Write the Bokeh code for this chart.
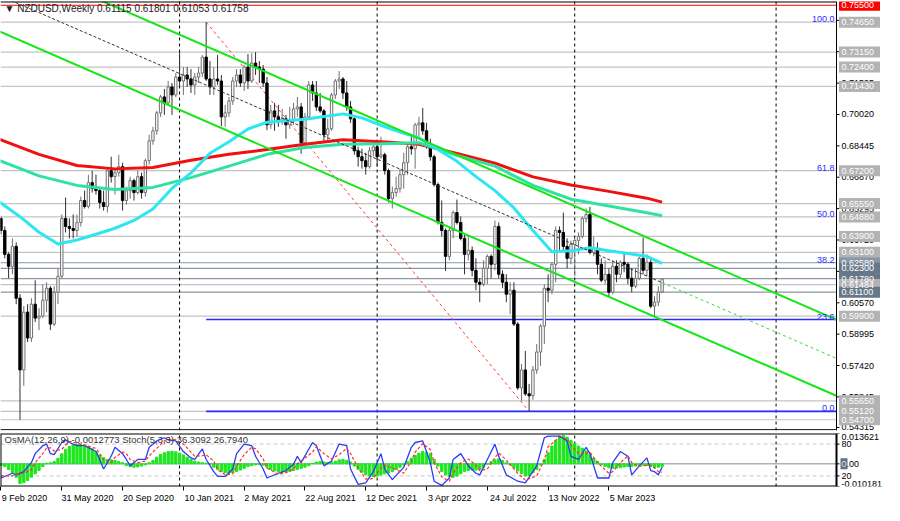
from bokeh.plotting import figure
from bokeh.models import Range1d, FixedTicker, Label
from bokeh.core.properties import value
from bokeh.layouts import column
from bokeh.embed import file_html
from bokeh.resources import INLINE

# ---------------- data ----------------
FIRST_WEEK = -1  # index of the first weekly bar (week 0 = 9 Feb 2020)
opens = [0.6440, 0.6480, 0.6420, 0.6300, 0.6240, 0.6340, 0.6080, 0.5720, 0.6010, 0.5880, 0.6050, 0.5980, 0.5990, 0.6070, 0.6130, 0.5950,
         0.6110, 0.6190, 0.6480, 0.6440, 0.6430, 0.6420, 0.6460, 0.6570, 0.6540, 0.6660, 0.6630, 0.6620, 0.6560, 0.6540, 0.6720, 0.6690,
         0.6710, 0.6740, 0.6570, 0.6620, 0.6670, 0.6610, 0.6690, 0.6610, 0.6770, 0.6870, 0.6920, 0.7010, 0.7090, 0.7060, 0.7140, 0.7100,
         0.7190, 0.7170, 0.7200, 0.7180, 0.7150, 0.7190, 0.7210, 0.7290, 0.7180, 0.7140, 0.7180, 0.7170, 0.6990, 0.7010, 0.7070, 0.7170,
         0.7200, 0.7160, 0.7240, 0.7170, 0.7260, 0.7240, 0.7230, 0.7160, 0.6950, 0.7020, 0.6990, 0.6970, 0.6980, 0.6950, 0.6970, 0.7030,
         0.7040, 0.6860, 0.6990, 0.7150, 0.7110, 0.7040, 0.7020, 0.6900, 0.6930, 0.7100, 0.7170, 0.7180, 0.7110, 0.7040, 0.6980, 0.6820,
         0.6790, 0.6770, 0.6740, 0.6820, 0.6840, 0.6790, 0.6800, 0.6720, 0.6580, 0.6610, 0.6630, 0.6700, 0.6760, 0.6840, 0.6830, 0.6950,
         0.6960, 0.6920, 0.6850, 0.6790, 0.6650, 0.6460, 0.6420, 0.6290, 0.6420, 0.6510, 0.6460, 0.6380, 0.6300, 0.6320, 0.6220, 0.6160,
         0.6150, 0.6230, 0.6290, 0.6250, 0.6440, 0.6200, 0.6160, 0.6100, 0.6120, 0.5950, 0.5630, 0.5720, 0.5600, 0.5590, 0.5720, 0.5810,
         0.5940, 0.6130, 0.6120, 0.6250, 0.6420, 0.6410, 0.6340, 0.6280, 0.6350, 0.6370, 0.6390, 0.6480, 0.6500, 0.6310, 0.6330, 0.6250,
         0.6170, 0.6200, 0.6110, 0.6240, 0.6200, 0.6260, 0.6250, 0.6180, 0.6140, 0.6180, 0.6280, 0.6220, 0.6260, 0.6040, 0.6060, 0.61115]
highs = [0.6510, 0.6490, 0.6440, 0.6310, 0.6380, 0.6360, 0.6100, 0.6040, 0.6050, 0.6080, 0.6170, 0.6030, 0.6150, 0.6160, 0.6140, 0.6140,
         0.6230, 0.6500, 0.6585, 0.6480, 0.6500, 0.6500, 0.6590, 0.6620, 0.6700, 0.6720, 0.6700, 0.6630, 0.6620, 0.6730, 0.6790, 0.6730,
         0.6800, 0.6760, 0.6640, 0.6690, 0.6680, 0.6720, 0.6710, 0.6780, 0.6900, 0.6940, 0.7020, 0.7100, 0.7130, 0.7170, 0.7160, 0.7210,
         0.7316, 0.7240, 0.7240, 0.7230, 0.7210, 0.7240, 0.7300, 0.7465, 0.7270, 0.7240, 0.7300, 0.7200, 0.7050, 0.7090, 0.7190, 0.7230,
         0.7230, 0.7250, 0.7305, 0.7310, 0.7315, 0.7270, 0.7250, 0.7190, 0.7050, 0.7060, 0.7050, 0.7030, 0.7000, 0.7040, 0.7060, 0.7090,
         0.7060, 0.7010, 0.7170, 0.7170, 0.7170, 0.7110, 0.7030, 0.6980, 0.7110, 0.7180, 0.7220, 0.7190, 0.7170, 0.7070, 0.6990, 0.6840,
         0.6830, 0.6810, 0.6840, 0.6860, 0.6860, 0.6890, 0.6810, 0.6730, 0.6640, 0.6690, 0.6730, 0.6810, 0.6850, 0.6890, 0.6960, 0.6990,
         0.7035, 0.6960, 0.6880, 0.6800, 0.6660, 0.6570, 0.6430, 0.6440, 0.6520, 0.6575, 0.6490, 0.6400, 0.6390, 0.6340, 0.6280, 0.6180,
         0.6270, 0.6300, 0.6300, 0.6470, 0.6460, 0.6220, 0.6200, 0.6160, 0.6160, 0.5960, 0.5750, 0.5815, 0.5650, 0.5740, 0.5850, 0.5950,
         0.6150, 0.6200, 0.6260, 0.6440, 0.6440, 0.6510, 0.6380, 0.6370, 0.6380, 0.6410, 0.6490, 0.6530, 0.6538, 0.6390, 0.6360, 0.6280,
         0.6270, 0.6230, 0.6270, 0.6270, 0.6270, 0.6310, 0.6260, 0.6230, 0.6230, 0.6290, 0.6385, 0.6300, 0.6280, 0.6090, 0.6140, 0.61801]
lows = [0.6420, 0.6400, 0.6280, 0.6180, 0.6200, 0.6050, 0.5470, 0.5640, 0.5860, 0.5860, 0.5960, 0.5920, 0.5980, 0.6010, 0.5920, 0.5940,
        0.6050, 0.6180, 0.6410, 0.6380, 0.6380, 0.6390, 0.6440, 0.6530, 0.6530, 0.6610, 0.6600, 0.6530, 0.6520, 0.6510, 0.6660, 0.6600,
        0.6690, 0.6520, 0.6550, 0.6580, 0.6570, 0.6600, 0.6580, 0.6590, 0.6750, 0.6850, 0.6900, 0.6990, 0.7000, 0.7050, 0.7000, 0.7090,
        0.7140, 0.7100, 0.7140, 0.7110, 0.7100, 0.7160, 0.7190, 0.7170, 0.7100, 0.7100, 0.7150, 0.6943, 0.6940, 0.6990, 0.7050, 0.7140,
        0.7140, 0.7120, 0.7130, 0.7160, 0.7200, 0.7160, 0.7140, 0.6923, 0.6930, 0.6920, 0.6940, 0.6950, 0.6880, 0.6930, 0.6950, 0.6990,
        0.6805, 0.6850, 0.6980, 0.7070, 0.7020, 0.7010, 0.6860, 0.6860, 0.6920, 0.7080, 0.7130, 0.7080, 0.7020, 0.6960, 0.6800, 0.6740,
        0.6730, 0.6700, 0.6730, 0.6790, 0.6740, 0.6780, 0.6700, 0.6560, 0.6530, 0.6590, 0.6610, 0.6630, 0.6700, 0.6800, 0.6730, 0.6880,
        0.6900, 0.6830, 0.6770, 0.6640, 0.6450, 0.6390, 0.6217, 0.6270, 0.6380, 0.6450, 0.6370, 0.6200, 0.6270, 0.6190, 0.6120, 0.6060,
        0.6140, 0.6150, 0.6180, 0.6220, 0.6180, 0.6130, 0.6060, 0.6000, 0.5940, 0.5620, 0.5565, 0.5590, 0.5512, 0.5570, 0.5700, 0.5740,
        0.5850, 0.6060, 0.6100, 0.6160, 0.6320, 0.6320, 0.6230, 0.6250, 0.6190, 0.6300, 0.6380, 0.6460, 0.6300, 0.6290, 0.6200, 0.6160,
        0.6150, 0.6085, 0.6100, 0.6160, 0.6180, 0.6210, 0.6150, 0.6110, 0.6130, 0.6170, 0.6200, 0.6190, 0.6030, 0.5985, 0.6040, 0.61053]
closes = [0.6480, 0.6420, 0.6300, 0.6240, 0.6340, 0.6080, 0.5720, 0.6010, 0.5880, 0.6050, 0.5980, 0.5990, 0.6070, 0.6130, 0.5950, 0.6110,
          0.6190, 0.6480, 0.6440, 0.6430, 0.6420, 0.6460, 0.6570, 0.6540, 0.6660, 0.6630, 0.6620, 0.6560, 0.6540, 0.6720, 0.6690, 0.6710,
          0.6740, 0.6570, 0.6620, 0.6670, 0.6610, 0.6690, 0.6610, 0.6770, 0.6870, 0.6920, 0.7010, 0.7090, 0.7060, 0.7140, 0.7100, 0.7190,
          0.7170, 0.7200, 0.7180, 0.7150, 0.7190, 0.7210, 0.7290, 0.7180, 0.7140, 0.7180, 0.7170, 0.6990, 0.7010, 0.7070, 0.7170, 0.7200,
          0.7160, 0.7240, 0.7170, 0.7260, 0.7240, 0.7230, 0.7160, 0.6950, 0.7020, 0.6990, 0.6970, 0.6980, 0.6950, 0.6970, 0.7030, 0.7040,
          0.6860, 0.6990, 0.7150, 0.7110, 0.7040, 0.7020, 0.6900, 0.6930, 0.7100, 0.7170, 0.7180, 0.7110, 0.7040, 0.6980, 0.6820, 0.6790,
          0.6770, 0.6740, 0.6820, 0.6840, 0.6790, 0.6800, 0.6720, 0.6580, 0.6610, 0.6630, 0.6700, 0.6760, 0.6840, 0.6830, 0.6950, 0.6960,
          0.6920, 0.6850, 0.6790, 0.6650, 0.6460, 0.6420, 0.6290, 0.6420, 0.6510, 0.6460, 0.6380, 0.6300, 0.6320, 0.6220, 0.6160, 0.6150,
          0.6230, 0.6290, 0.6250, 0.6440, 0.6200, 0.6160, 0.6100, 0.6120, 0.5950, 0.5630, 0.5720, 0.5600, 0.5590, 0.5720, 0.5810, 0.5940,
          0.6130, 0.6120, 0.6250, 0.6420, 0.6410, 0.6340, 0.6280, 0.6350, 0.6370, 0.6390, 0.6480, 0.6500, 0.6310, 0.6330, 0.6250, 0.6170,
          0.6200, 0.6110, 0.6240, 0.6200, 0.6260, 0.6250, 0.6180, 0.6140, 0.6180, 0.6280, 0.6220, 0.6260, 0.6040, 0.6060, 0.6110, 0.61758]

# moving averages (week index, price)
ma_red_w = [-1, 0, 10, 20, 30, 40, 50, 60, 70, 80, 90, 100, 110, 120, 130, 140, 150, 160, 170, 174]
ma_red = [0.6880, 0.6875, 0.6802, 0.6746, 0.6729, 0.6736, 0.6772, 0.6802, 0.6826, 0.6853, 0.6875, 0.6865, 0.6853,
          0.6807, 0.6758, 0.6689, 0.6648, 0.6616, 0.6582, 0.6562]
ma_aqua_w = [-1, 0, 10, 20, 30, 40, 50, 60, 70, 80, 90, 100, 110, 120, 130, 140, 150, 160, 170, 174]
ma_aqua = [0.6773, 0.6768, 0.6694, 0.6646, 0.6626, 0.6636, 0.6685, 0.6743, 0.6802, 0.6836, 0.6853, 0.6855, 0.6860,
           0.6797, 0.6743, 0.6646, 0.6577, 0.6543, 0.6509, 0.6494]
ma_cyan_w = [-1, 0, 5, 10, 15, 20, 25, 30, 35, 40, 45, 50, 55, 60, 65, 70, 80, 90, 95, 100, 105, 110, 115, 120, 125,
             130, 135, 140, 145, 150, 155, 160, 165, 170, 174]
ma_cyan = [0.6565, 0.6558, 0.6489, 0.6411, 0.6352, 0.6372, 0.6401, 0.6431, 0.6470, 0.6528, 0.6631, 0.6709, 0.6807,
           0.6865, 0.6929, 0.6963, 0.6978, 0.7005, 0.6985, 0.6948, 0.6914, 0.6885, 0.6826, 0.6767, 0.6690, 0.6620,
           0.6533, 0.6420, 0.6313, 0.6318, 0.6333, 0.6318, 0.6304, 0.6290, 0.6255]

# drawn objects (week index, price)
channel_upper = [(-1, 0.7800), (220, 0.5971)]
channel_lower = [(-1, 0.7424), (220, 0.5589)]
channel_mid = [(-1, 0.7604), (174, 0.6158), (220, 0.5777)]
fib_high = (54, 0.7465)
fib_low = (139, 0.5512)
fib_levels = [100.0, 61.8, 50.0, 38.2, 23.6, 0.0]
red_level = 0.7550
levels = [0.74650, 0.73150, 0.72400, 0.71430, 0.67200, 0.65550, 0.64880, 0.63900, 0.63100, 0.62580,
          0.62300, 0.61780, 0.61484, 0.61100, 0.59900, 0.55650, 0.55120, 0.54700]
level_kind = ["g", "g", "g", "g", "g", "g", "g", "g", "g", "s", "d", "d", "g", "d", "g", "g", "g", "g"]
price_ticks = [0.74745, 0.73170, 0.71595, 0.70020, 0.68445, 0.66870, 0.65295, 0.63720, 0.62145, 0.60570,
               0.58995, 0.57420, 0.55845, 0.54315]
year_starts = [47, 99, 151, 204]

date_ticks = [0, 16, 32, 48, 64, 80, 96, 112, 128, 144, 160]
date_labels = ["9 Feb 2020", "31 May 2020", "20 Sep 2020", "10 Jan 2021", "2 May 2021", "22 Aug 2021",
               "12 Dec 2021", "3 Apr 2022", "24 Jul 2022", "13 Nov 2022", "5 Mar 2023"]

osma = [-0.0005, -0.0008, -0.0012, -0.0025, -0.0040, -0.0060, -0.0088, -0.0085, -0.0075, -0.0060, -0.0045, -0.0030,
        -0.0012, 0.0003, 0.0005, 0.0010, 0.0025, 0.0045, 0.0065, 0.0078, 0.0085, 0.0088, 0.0088, 0.0085, 0.0078, 0.0068,
        0.0055, 0.0040, 0.0028, 0.0020, 0.0018, 0.0015, 0.0010, 0.0005, -0.0008, -0.0013, -0.0015, -0.0014, -0.0010, -0.0005,
        0.0005, 0.0015, 0.0030, 0.0042, 0.0050, 0.0055, 0.0056, 0.0054, 0.0048, 0.0040, 0.0030, 0.0020, 0.0012,
        0.0008, 0.0005, 0.0003, -0.0002, -0.0015, -0.0025, -0.0035, -0.0040, -0.0042, -0.0040, -0.0035, -0.0028, -0.0020,
        -0.0012, -0.0008, -0.0005, -0.0003, -0.0006, -0.0015, -0.0025, -0.0032, -0.0036, -0.0038, -0.0037, -0.0034, -0.0030,
        -0.0025, -0.0020, -0.0015, -0.0008, 0.0002, 0.0008, 0.0010, 0.0008, 0.0006, 0.0008, 0.0012, 0.0018, 0.0020, 0.0016,
        0.0008, -0.0010, -0.0025, -0.0038, -0.0048, -0.0055, -0.0058, -0.0055, -0.0050, -0.0045, -0.0040, -0.0035, -0.0025,
        -0.0015, -0.0005, 0.0010, 0.0025, 0.0038, 0.0048, 0.0055, 0.0052, 0.0045, 0.0020, -0.0010, -0.0035, -0.0050, -0.0058,
        -0.0060, -0.0055, -0.0045, -0.0035, -0.0030, -0.0028, -0.0028, -0.0025, -0.0015, -0.0002, 0.0010, 0.0018, 0.0022,
        0.0015, 0.0005, -0.0005, -0.0018, -0.0032, -0.0045, -0.0055, -0.0052, -0.0040, -0.0025, -0.0005, 0.0020, 0.0050,
        0.0080, 0.0105, 0.0125, 0.0128, 0.0120, 0.0105, 0.0090, 0.0080, 0.0070, 0.0058, 0.0042, 0.0025, 0.0010, -0.0003,
        -0.0012, -0.0018, -0.0020, -0.0019, -0.0017, -0.0014, -0.0012, -0.0012, -0.0010, -0.0008, -0.0006, -0.0008, -0.0012,
        -0.0016, -0.0015, -0.0012773]
osma_lo, osma_hi = -0.010181, 0.013621

stoch_w = [0, 3, 4, 6, 8, 9, 11, 12, 13, 14, 16, 17, 18, 20, 22, 25, 26, 27, 29, 30, 32, 33, 34, 36, 38, 39, 41, 43, 44,
           46, 48, 50, 51, 53, 54, 56, 57, 59, 61, 62, 64, 66, 67, 69, 70, 73, 75, 77, 78, 79, 82, 83, 85, 87, 89, 91,
           92, 94, 96, 98, 100, 101, 103, 106, 108, 109, 111, 113, 114, 116, 118, 119, 121, 123, 125, 126, 128, 130,
           131, 133, 136, 138, 141, 143, 144, 147, 149, 150, 152, 154, 155, 157, 160, 161, 163, 165, 166, 168, 170,
           171, 172, 173, 174]
stoch_main = [16, 25, 22, 28, 45, 62, 77, 80, 62, 60, 83, 88, 83, 77, 77, 66, 51, 33, 57, 74, 62, 51, 39, 51, 51, 74,
              86, 92, 88, 86, 66, 54, 51, 71, 51, 28, 19, 19, 33, 62, 80, 77, 57, 33, 16, 25, 30, 42, 57, 45, 83, 77,
              39, 48, 80, 77, 33, 4, 7, 28, 62, 33, 13, 36, 74, 83, 86, 45, 10, 2, 16, 51, 62, 39, 25, 22, 51, 80, 57,
              22, 10, 7, 39, 92, 95, 95, 86, 57, 51, 74, 62, 16, 16, 45, 66, 57, 22, 39, 54, 30, 28, 22, 36.3092]
stoch_signal = [20, 20, 23, 25, 32, 45, 62, 73, 73, 67, 70, 78, 85, 82, 78, 72, 62, 50, 45, 55, 65, 62, 51, 45, 48, 58,
                72, 86, 89, 88, 80, 65, 57, 58, 60, 48, 32, 22, 24, 38, 60, 74, 71, 52, 35, 23, 26, 33, 43, 48, 65, 75,
                62, 52, 60, 72, 62, 35, 14, 15, 35, 40, 35, 25, 48, 65, 81, 70, 45, 18, 10, 25, 45, 52, 40, 30, 33, 55,
                63, 50, 25, 12, 20, 50, 75, 93, 90, 78, 62, 62, 65, 45, 25, 28, 45, 58, 45, 38, 40, 40, 35, 28, 26.7940]

# ---------------- geometry / style ----------------
FONT = "Liberation Sans"
W = 884
RB = 48                      # width of the price-scale strip, px
X0, X1 = -0.13, 219.9        # visible weeks of the chart area
PXW = (W - RB) / (X1 - X0)   # px per week
XE = X1 + RB / PXW           # both frames also cover the price-scale strip
Y0, Y1 = 0.5416, 0.7569

weeks = list(range(FIRST_WEEK, FIRST_WEEK + len(opens)))

p = figure(width=W, height=431, x_range=Range1d(X0, XE), y_range=Range1d(Y0, Y1),
           x_axis_location=None, y_axis_location=None, toolbar_location=None, output_backend="svg",
           min_border_left=0, min_border_right=0, min_border_top=1, min_border_bottom=1)
p.grid.visible = False
p.outline_line_color = None
p.background_fill_color = "white"
p.border_fill_color = "white"

# horizontal levels
for lv, kind in zip(levels, level_kind):
    col = "#c4c4c4" if kind == "g" else "#8a97a8"
    p.segment(x0=X0, y0=lv, x1=X1, y1=lv, line_color=col, line_width=1.2)
p.segment(x0=X0, y0=red_level, x1=X1, y1=red_level, line_color="#ff0000", line_width=1)

# year separators
p.segment(x0=year_starts, y0=Y0, x1=year_starts, y1=Y1, line_color="black", line_dash="3 3", line_width=1)

# fib lines (23.6 and 0.0 drawn in blue) and red dashed fib baseline
fib_range = fib_high[1] - fib_low[1]
fib_prices = [fib_low[1] + fib_range * f / 100.0 for f in fib_levels]
for f, fp in zip(fib_levels, fib_prices):
    if f in (23.6, 0.0):
        p.segment(x0=fib_high[0], y0=fp, x1=X1, y1=fp, line_color="#2b2bff", line_width=1.6)
p.segment(x0=fib_high[0], y0=fib_high[1], x1=fib_low[0], y1=fib_low[1], line_color="#ff3b3b",
          line_dash="3 3", line_width=1)

# candles
up = [c >= o for o, c in zip(opens, closes)]
wick_col = ["#707070" if u else "#303030" for u in up]
p.segment(x0=weeks, y0=lows, x1=weeks, y1=highs, line_color=wick_col, line_width=1)
tops = [max(o, c) for o, c in zip(opens, closes)]
bots = [min(o, c) for o, c in zip(opens, closes)]
p.vbar(x=weeks, top=tops, bottom=bots, width=0.62,
       fill_color=["white" if u else "black" for u in up],
       line_color=["#707070" if u else "black" for u in up], line_width=1)

# moving averages
p.line(ma_red_w, ma_red, line_color="#f01010", line_width=3)
p.line(ma_aqua_w, ma_aqua, line_color="#2ee3a0", line_width=3)
p.line(ma_cyan_w, ma_cyan, line_color="#2ee6f2", line_width=3)

# channel
for ch in (channel_upper, channel_lower):
    p.line([c[0] for c in ch], [c[1] for c in ch], line_color="#17e617", line_width=2)
p.line([c[0] for c in channel_mid[:2]], [c[1] for c in channel_mid[:2]], line_color="#333333",
       line_width=1, line_dash="3 2")
p.line([c[0] for c in channel_mid[1:]], [c[1] for c in channel_mid[1:]], line_color="#33dd33",
       line_width=1, line_dash="3 3")

# fib texts
for f, fp in zip(fib_levels, fib_prices):
    p.add_layout(Label(x=X1, y=fp, x_offset=-2, y_offset=0, text=f"{f:.1f}", text_align="right",
                       text_baseline="bottom", text_font=FONT, text_font_size="9px", text_color="#2b2bff"))

# frame edges and price scale (axis line, ticks, labels)
p.segment(x0=X0, y0=Y0 + 0.0004, x1=X1, y1=Y0 + 0.0004, line_color="black", line_width=1)
p.segment(x0=X0, y0=Y1, x1=X1, y1=Y1, line_color="black", line_width=2)
p.segment(x0=X1, y0=Y0, x1=X1, y1=Y1, line_color="black", line_width=1)
p.ray(x=X1, y=price_ticks, length=3, length_units="screen", angle=0, line_color="black", line_width=1)
p.text(x=X1, y=price_ticks, text=[f"{t:.5f}" for t in price_ticks], x_offset=5, text_baseline="middle",
       text_align="left", text_font=value(FONT), text_font_size="9px", text_color="black")

# price boxes on the price scale
box_colors = {"g": "#b3b3b3", "s": "#8896a6", "d": "#66778a"}
box_x = X1 + 23 / PXW
p.rect(x=box_x, y=levels, width=41, height=11, width_units="screen", height_units="screen",
       fill_color=[box_colors[k] for k in level_kind], line_color=None)
p.text(x=X1, y=levels, text=[f"{lv:.5f}" for lv in levels], x_offset=5, text_baseline="middle",
       text_align="left", text_font=value(FONT), text_font_size="9px", text_color="white")
p.rect(x=box_x, y=red_level, width=41, height=11, width_units="screen", height_units="screen",
       fill_color="#ff0000", line_color=None)
p.text(x=X1, y=red_level, text=[f"{red_level:.5f}"], x_offset=5, text_baseline="middle",
       text_align="left", text_font=value(FONT), text_font_size="9px", text_color="white")

# header
p.add_layout(Label(x=X0, y=0.7533, x_offset=4, text="\u25bc  NZDUSD,Weekly  0.61115 0.61801 0.61053 0.61758",
                   text_baseline="middle", text_font=FONT, text_font_size="10px", text_color="#222222"))

# ---------------- oscillator panel ----------------
q = figure(width=W, height=74, x_range=Range1d(X0, XE), y_range=Range1d(0, 100),
           y_axis_location=None, toolbar_location=None, output_backend="svg",
           min_border_left=0, min_border_right=0, min_border_top=2, min_border_bottom=18)
q.extra_y_ranges = {"osma": Range1d(osma_lo, osma_hi)}
q.grid.visible = False
q.outline_line_color = None
q.background_fill_color = "white"
q.border_fill_color = "white"

# date labels start at their tick (MetaTrader style): label centre is shifted right of the tick mark
label_pos = [round(t + len(s) * 2.35 / PXW, 2) for t, s in zip(date_ticks, date_labels)]
qx = q.xaxis[0]
qx.ticker = FixedTicker(ticks=label_pos, minor_ticks=date_ticks)
qx.major_label_overrides = {lp: s for lp, s in zip(label_pos, date_labels)}
qx.major_label_text_font = FONT
qx.major_label_text_font_size = "9px"
qx.major_label_text_color = "black"
qx.major_tick_line_color = None
qx.major_tick_out = 4
qx.minor_tick_out = 4
qx.minor_tick_in = 0
qx.minor_tick_line_color = "black"
qx.major_label_standoff = 2
qx.axis_line_color = None

zero_pos = (0 - osma_lo) / (osma_hi - osma_lo) * 100
for lv in (20, 80):
    q.segment(x0=X0, y0=lv, x1=X1, y1=lv, line_color="#c8c8c8", line_dash="4 3", line_width=1)
q.segment(x0=X0, y0=0, x1=X1, y1=0, y_range_name="osma", line_color="#7a8ca0", line_width=1)
q.segment(x0=year_starts, y0=0, x1=year_starts, y1=100, line_color="black", line_dash="3 3", line_width=1)

q.vbar(x=weeks[:len(osma)], top=osma, bottom=0, width=0.62, y_range_name="osma",
       fill_color="#1ee61e", line_color="#1ee61e")
q.line(stoch_w, stoch_main, line_color="#2a3cf5", line_width=1.3)
q.line(stoch_w, stoch_signal, line_color="#ff3030", line_width=1.2, line_dash="3 2")

# panel border and its value scale
q.segment(x0=[X0, X0, X1, X0], y0=[0, 100, 0, 0], x1=[X1, X1, X1, X0], y1=[0, 100, 100, 100],
          line_color="black", line_width=2)
osc_ticks = [100, 80, zero_pos, 20, 0]
osc_texts = [f"{osma_hi:.6f}", "80", "0.00", "20", f"{osma_lo:.6f}"]
osc_base = ["top", "middle", "middle", "middle", "bottom"]
q.ray(x=X1, y=osc_ticks, length=3, length_units="screen", angle=0, line_color="black", line_width=1)
q.rect(x=X1 + 7.5 / PXW, y=zero_pos, width=7, height=11, width_units="screen", height_units="screen",
       fill_color="#5f7185", line_color=None)
for t, s, b in zip(osc_ticks, osc_texts, osc_base):
    q.text(x=X1, y=t, text=[s], x_offset=5, text_baseline=b, text_align="left",
           text_font=value(FONT), text_font_size="9px", text_color="black")
q.text(x=X1, y=zero_pos, text=["0"], x_offset=5, text_baseline="middle", text_align="left",
       text_font=value(FONT), text_font_size="9px", text_color="white")

q.add_layout(Label(x=X0, y=88, x_offset=4, text="OsMA(12,26,9) -0.0012773   Stoch(5,3,3) 36.3092 26.7940",
                   text_baseline="middle", text_font=FONT, text_font_size="9.5px", text_color="#333333"))

layout = column(p, q, spacing=0)
open("out.html", "w").write(file_html(layout, INLINE))
